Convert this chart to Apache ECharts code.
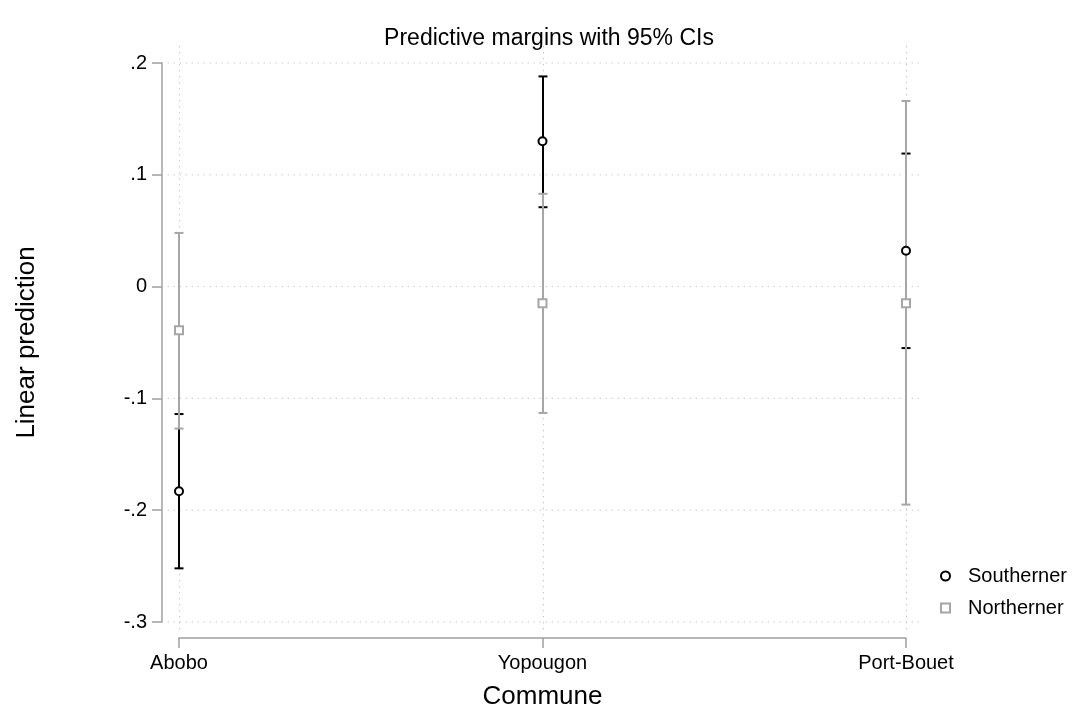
<!DOCTYPE html>
<html>
<head>
<meta charset="utf-8">
<script src="https://cdn.jsdelivr.net/npm/echarts@6/dist/echarts.min.js"></script>
<style>
html,body{margin:0;padding:0;background:#fff;}
#chart{width:1077px;height:711px;}
</style>
</head>
<body>
<div id="chart"></div>
<script>
// ---- data ----
var categories = ['Abobo', 'Yopougon', 'Port-Bouet'];
var southMargin = [-0.183, 0.130, 0.032];
var southLower  = [-0.252, 0.071, -0.055];
var southUpper  = [-0.114, 0.188, 0.119];
var northMargin = [-0.039, -0.015, -0.015];
var northLower  = [-0.127, -0.113, -0.195];
var northUpper  = [0.048, 0.083, 0.166];
var yTicks = [-0.3, -0.2, -0.1, 0, 0.1, 0.2];
var yTickLabels = ['-.3', '-.2', '-.1', '0', '.1', '.2'];
var xTicks = [0, 1, 2];

var FONT = 'Liberation Sans, Arial, sans-serif';
var BLACK = '#000000';
var GREY = '#a6a6a6';
var AXIS = '#a0a0a0';

function ciData(lo, hi) {
  return categories.map(function (c, i) { return [i, lo[i], hi[i]]; });
}
function ptData(m) {
  return categories.map(function (c, i) { return [i, m[i]]; });
}

function ciRender(color) {
  return function (params, api) {
    var x = api.value(0);
    var pLo = api.coord([x, api.value(1)]);
    var pHi = api.coord([x, api.value(2)]);
    var px = Math.round(pLo[0]);
    var hw = 4.5;
    var st = { stroke: color, lineWidth: 2 };
    return {
      type: 'group',
      children: [
        { type: 'line', shape: { x1: px, y1: pLo[1], x2: px, y2: pHi[1] }, style: st },
        { type: 'line', shape: { x1: px - hw, y1: pLo[1], x2: px + hw, y2: pLo[1] }, style: st },
        { type: 'line', shape: { x1: px - hw, y1: pHi[1], x2: px + hw, y2: pHi[1] }, style: st }
      ]
    };
  };
}

var gridStyle = { stroke: '#b0b0b0', lineWidth: 1, lineDash: [1, 5] };

var option = {
  animation: false,
  backgroundColor: '#ffffff',
  title: {
    text: 'Predictive margins with 95% CIs',
    left: 544, textAlign: 'center',
    top: 22,
    textStyle: { fontFamily: FONT, fontSize: 23, fontWeight: 'normal', color: '#000' }
  },
  legend: {
    data: ['Southerner', 'Northerner'],
    orient: 'vertical',
    left: 935, top: 561,
    itemWidth: 9, itemHeight: 9,
    itemGap: 12,
    itemStyle: { borderWidth: 2 },
    textStyle: { fontFamily: FONT, fontSize: 20, color: '#000', padding: [0, 0, 0, 13] },
    selectedMode: false
  },
  grid: { left: 179, top: 63, width: 727, height: 559, containLabel: false, outerBoundsMode: 'none' },
  xAxis: {
    type: 'value', min: 0, max: 2, interval: 1,
    offset: 16,
    name: 'Commune', nameLocation: 'middle', nameGap: 46,
    nameTextStyle: { fontFamily: FONT, fontSize: 26, color: '#000' },
    axisLine: { show: true, onZero: false, lineStyle: { color: AXIS, width: 1.5 } },
    axisTick: { show: true, length: 10, lineStyle: { color: AXIS, width: 1.5 } },
    axisLabel: {
      margin: 15, fontFamily: FONT, fontSize: 20, color: '#000',
      formatter: function (v) { return categories[Math.round(v)] || ''; }
    },
    splitLine: { show: false }
  },
  yAxis: {
    type: 'value', min: -0.3, max: 0.2, interval: 0.1,
    offset: 17,
    name: 'Linear prediction', nameLocation: 'middle', nameGap: 122, nameRotate: 90,
    nameTextStyle: { fontFamily: FONT, fontSize: 26, color: '#000' },
    axisLine: { show: true, onZero: false, lineStyle: { color: AXIS, width: 1.5 } },
    axisTick: { show: true, length: 10, lineStyle: { color: AXIS, width: 1.5 } },
    axisLabel: {
      margin: 15, fontFamily: FONT, fontSize: 20, color: '#000',
      formatter: function (v) {
        for (var i = 0; i < yTicks.length; i++) {
          if (Math.abs(yTicks[i] - v) < 1e-9) return yTickLabels[i];
        }
        return '';
      }
    },
    splitLine: { show: false }
  },
  series: [
    {
      name: 'hgrid', type: 'custom', silent: true, clip: false, z: 1,
      data: yTicks.map(function (t) { return [t]; }),
      renderItem: function (params, api) {
        var v = api.value(0);
        var a = api.coord([-0.031, v]);
        var b = api.coord([2.04, v]);
        return { type: 'line', shape: { x1: a[0], y1: a[1], x2: b[0], y2: b[1] }, style: gridStyle };
      }
    },
    {
      name: 'vgrid', type: 'custom', silent: true, clip: false, z: 1,
      data: xTicks.map(function (t) { return [t]; }),
      renderItem: function (params, api) {
        var v = api.value(0);
        var a = api.coord([v, 0.215]);
        var b = api.coord([v, -0.309]);
        var px = Math.round(a[0]) + 0.5;
        return { type: 'line', shape: { x1: px, y1: a[1], x2: px, y2: b[1] }, style: gridStyle };
      }
    },
    {
      name: 'Southerner CI', type: 'custom', silent: true, clip: false, z: 2,
      data: ciData(southLower, southUpper),
      renderItem: ciRender(BLACK)
    },
    {
      name: 'Northerner CI', type: 'custom', silent: true, clip: false, z: 3,
      data: ciData(northLower, northUpper),
      renderItem: ciRender(GREY)
    },
    {
      name: 'Southerner', type: 'scatter', z: 4,
      symbol: 'circle', symbolSize: 8,
      itemStyle: { color: '#ffffff', borderColor: BLACK, borderWidth: 2, opacity: 1 },
      data: ptData(southMargin)
    },
    {
      name: 'Northerner', type: 'scatter', z: 5,
      symbol: 'rect', symbolSize: 8,
      itemStyle: { color: '#ffffff', borderColor: GREY, borderWidth: 2, opacity: 1 },
      data: ptData(northMargin)
    }
  ]
};

var chart = echarts.init(document.getElementById('chart'), null, { renderer: 'canvas' });
chart.setOption(option);
</script>
</body>
</html>
